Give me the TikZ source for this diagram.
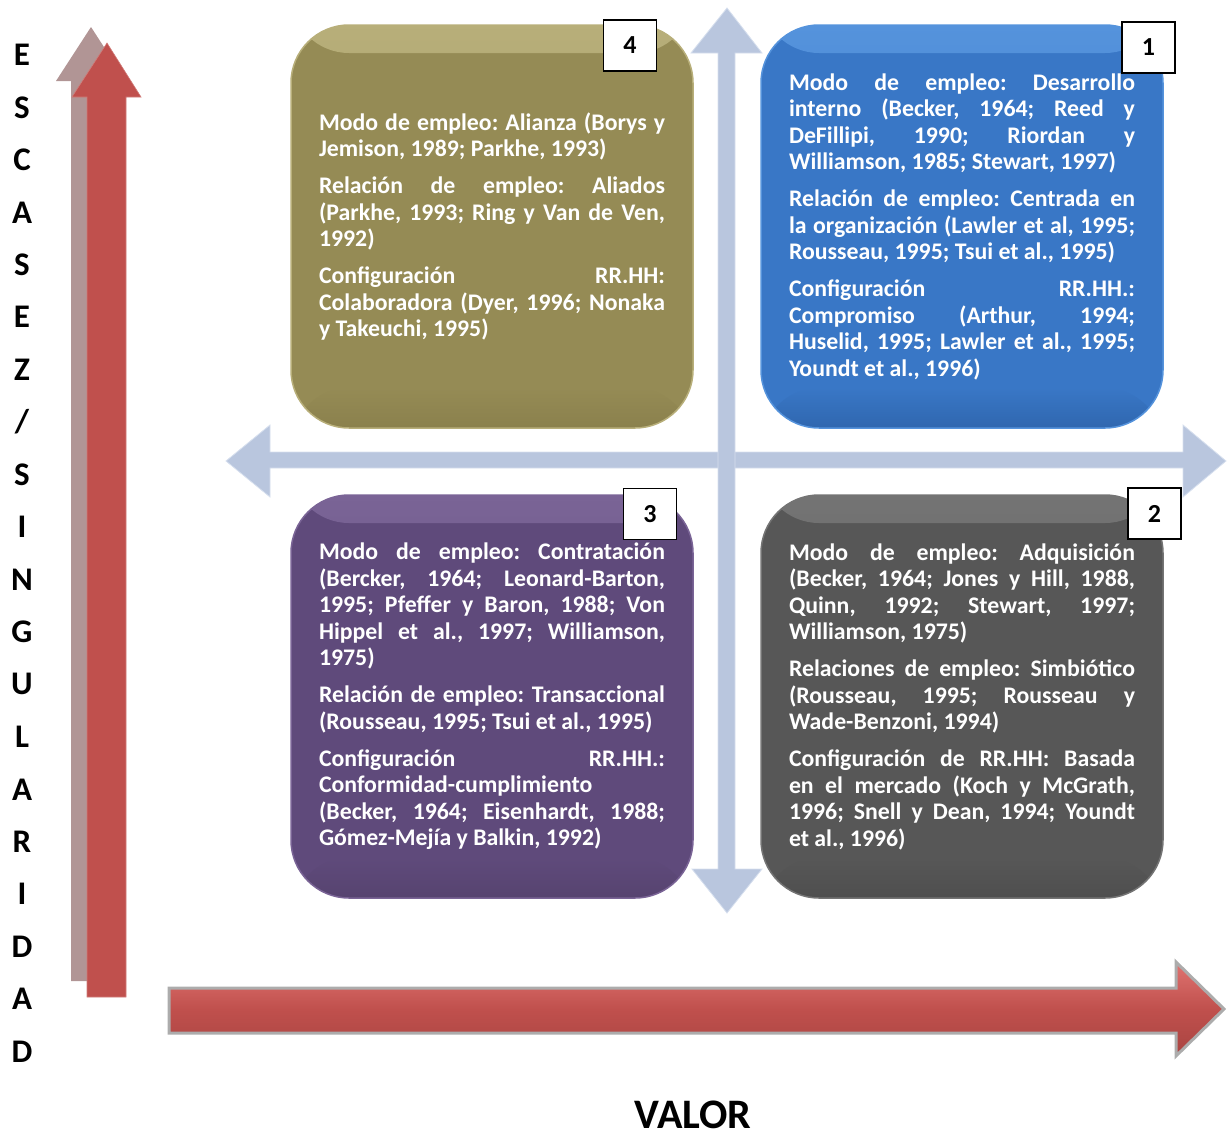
\documentclass[tikz,border=0pt]{standalone}
\usepackage{fontspec}
\setmainfont{Carlito}
\definecolor{olivebox}{HTML}{958B55}
\definecolor{olivelt}{HTML}{B8AF7A}
\definecolor{olivedk}{HTML}{8A804C}
\definecolor{bluebox}{HTML}{3977C6}
\definecolor{bluelt}{HTML}{5593DC}
\definecolor{bluedk}{HTML}{2F66AE}
\definecolor{purplebox}{HTML}{5F4A7B}
\definecolor{purplelt}{HTML}{7A6496}
\definecolor{purpledk}{HTML}{56436F}
\definecolor{graybox}{HTML}{575757}
\definecolor{graylt}{HTML}{747474}
\definecolor{graydk}{HTML}{4E4E4E}
\definecolor{crossc}{HTML}{B9C6DE}
\definecolor{crosslt}{HTML}{D6DFEE}
\definecolor{redarr}{HTML}{C0504D}
\definecolor{redlt}{HTML}{E07471}
\definecolor{reddk}{HTML}{A94441}
\definecolor{palearr}{HTML}{B19595}
\newcommand\qtext[1]{\begin{minipage}{346pt}\frenchspacing\setlength\parskip{10.5pt}\setlength\parindent{0pt}\hyphenpenalty=10000 \exhyphenpenalty=10000 \tolerance=10000 \emergencystretch=0pt #1\end{minipage}}
\tikzset{
  quad/.style={rounded corners=58pt, minimum width=402pt, minimum height=403pt, inner sep=0pt,
    text=white, font=\bfseries\fontsize{23.8}{26.5}\selectfont},
  gloss/.style n args={3}{fill=#1, draw=#2, line width=1.5pt,
    path picture={
      \shade[top color=#2, bottom color=#1] ([yshift=2pt]path picture bounding box.north west) rectangle ([yshift=-28pt]path picture bounding box.north east);
      \shade[top color=#1, bottom color=#3] ([yshift=40pt]path picture bounding box.south west) rectangle ([yshift=-2pt]path picture bounding box.south east);
    }},
  numbox/.style={draw=black, line width=1.6pt, fill=white, minimum width=53pt, minimum height=51pt,
    inner sep=0pt, font=\bfseries\fontsize{26}{28}\selectfont},
  vlet/.style={font=\bfseries\fontsize{33}{36}\selectfont, inner sep=0pt, anchor=center},
  crossarrow/.style={fill=crossc, draw=crosslt, line width=0.8pt, line join=miter},
}
\begin{document}
\begin{tikzpicture}[x=1pt, y=-1pt]
\useasboundingbox (0,0) rectangle (1227,1138);

% left vertical arrows
\fill[palearr] (91,27) -- (126,81) -- (110,81) -- (110,981) -- (71,981) -- (71,81) -- (56,81) -- cycle;
\draw[fill=redarr, draw=redarr!75!white, line width=0.6pt] (107,43) -- (141,97) -- (126,97) -- (126,997) -- (87,997) -- (87,97) -- (72,97) -- cycle;

% vertical letters
\foreach \l [count=\i] in {E,S,C,A,S,E,Z,/,S,I,N,G,U,L,A,R,I,D,A,D}
  \node[vlet] (let\i) at (22,{55+(\i-1)*52.45}) {\l};

% bottom arrow
\draw[draw=gray!65, line width=3pt, line join=miter, top color=redlt, bottom color=reddk, middle color=redarr]
  (169,988) -- (1176,988) -- (1176,962) -- (1224,1009) -- (1176,1056) -- (1176,1033) -- (169,1033) -- cycle;
\node[font=\bfseries\fontsize{42}{44}\selectfont, inner sep=0pt, anchor=base] (valor) at (693,1128) {VALOR};

% cross arrows
\draw[crossarrow] (226,461) -- (270,425) -- (270,452) -- (1183,452) -- (1183,425) -- (1226,461) -- (1183,497) -- (1183,468) -- (270,468) -- (270,497) -- cycle;
\draw[crossarrow] (727,8) -- (762,53) -- (735,53) -- (735,869) -- (762,869) -- (727,913) -- (692,869) -- (718,869) -- (718,53) -- (691,53) -- cycle;
\fill[crossc] (719,453) rectangle (734,467);

% quadrants
\node[quad, gloss={olivebox}{olivelt}{olivedk}] (q4) at (492,226.5) {\qtext{%
Modo de empleo: Alianza (Borys y \linebreak Jemison, 1989; Parkhe, 1993)\par
Relación de empleo: Aliados \linebreak (Parkhe, 1993; Ring y Van de Ven, \linebreak 1992)\par
Configuración RR.HH: \linebreak Colaboradora (Dyer, 1996; Nonaka \linebreak y Takeuchi, 1995)}};

\node[quad, gloss={bluebox}{bluelt}{bluedk}] (q1) at (962,226.5) {\qtext{%
Modo de empleo: Desarrollo \linebreak interno (Becker, 1964; Reed y \linebreak DeFillipi, 1990; Riordan y \linebreak Williamson, 1985; Stewart, 1997)\par
Relación de empleo: Centrada en \linebreak la organización (Lawler et al, 1995; \linebreak Rousseau, 1995; Tsui et al., 1995)\par
Configuración RR.HH.: \linebreak Compromiso (Arthur, 1994; \linebreak Huselid, 1995; Lawler et al., 1995; \linebreak Youndt et al., 1996)}};

\node[quad, gloss={purplebox}{purplelt}{purpledk}] (q3) at (492,696.5) {\qtext{%
Modo de empleo: Contratación \linebreak (Bercker, 1964; Leonard-Barton, \linebreak 1995; Pfeffer y Baron, 1988; Von \linebreak Hippel et al., 1997; Williamson, \linebreak 1975)\par
Relación de empleo: Transaccional \linebreak (Rousseau, 1995; Tsui et al., 1995)\par
Configuración RR.HH.: \linebreak Conformidad-cumplimiento \linebreak (Becker, 1964; Eisenhardt, 1988; \linebreak Gómez-Mejía y Balkin, 1992)}};

\node[quad, gloss={graybox}{graylt}{graydk}] (q2) at (962,696.5) {\qtext{%
Modo de empleo: Adquisición \linebreak (Becker, 1964; Jones y Hill, 1988, \linebreak Quinn, 1992; Stewart, 1997; \linebreak Williamson, 1975)\par
Relaciones de empleo: Simbiótico \linebreak (Rousseau, 1995; Rousseau y \linebreak Wade-Benzoni, 1994)\par
Configuración de RR.HH: Basada \linebreak en el mercado (Koch y McGrath, \linebreak 1996; Snell y Dean, 1994; Youndt \linebreak et al., 1996)}};

% number boxes
\node[numbox] (n4) at (630,45.5) {4};
\node[numbox] (n1) at (1148.5,47.5) {1};
\node[numbox] (n3) at (650,514) {3};
\node[numbox] (n2) at (1154.5,513.5) {2};
\end{tikzpicture}
\end{document}
